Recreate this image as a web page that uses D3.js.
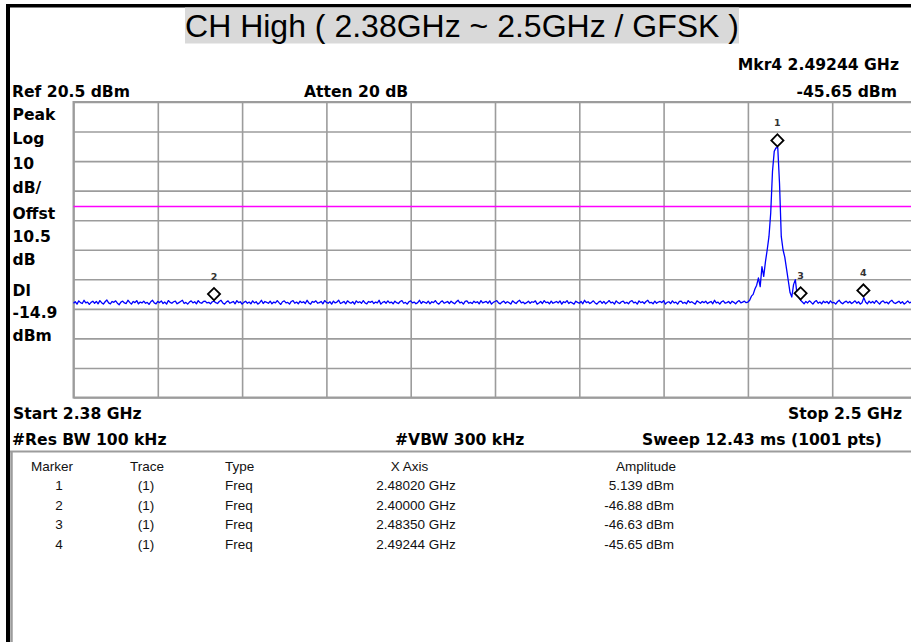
<!DOCTYPE html>
<html>
<head>
<meta charset="utf-8">
<script src="https://cdn.jsdelivr.net/npm/d3@7"></script>
<style>
  html, body { margin: 0; padding: 0; background: #fff; }
  svg { display: block; }
</style>
</head>
<body>
<svg id="chart" width="911" height="642"></svg>
<script>
// ---------------- DATA ----------------
const titleText = "CH High ( 2.38GHz ~ 2.5GHz / GFSK )";
const freqStart = 2.38;   // GHz
const freqStop = 2.5;     // GHz
const refLevel = 20.5;    // dBm
const dbPerDiv = 10;
const displayLine = -14.9; // dBm

// Trace amplitudes (dBm), evenly spaced sweep points from Start to Stop
const traceDbm = [
-47.6,-47.1,-47.9,-46.8,-47.4,-47.7,-46.6,-47.5,-47.2,-48.0,-47.3,-46.9,-47.6,-47.0,-47.8,-46.7,-47.4,-47.9,-47.1,-46.5,
-47.5,-47.8,-47.0,-47.3,-46.8,-47.6,-48.1,-47.2,-46.9,-47.5,-47.7,-46.6,-47.3,-47.9,-47.0,-47.4,-46.7,-47.8,-47.2,-47.5,
-46.9,-47.6,-47.3,-48.0,-47.1,-46.6,-47.5,-47.8,-47.0,-47.4,-46.8,-47.7,-47.2,-47.9,-46.7,-47.3,-47.6,-47.1,-46.9,-47.8,
-47.4,-47.0,-46.6,-47.7,-47.3,-47.9,-47.2,-46.8,-47.5,-47.1,-47.8,-46.7,-47.4,-47.6,-47.0,-46.9,-47.5,-47.3,-47.8,-47.1,
-46.9,-47.4,-47.7,-47.0,-46.6,-47.5,-47.9,-47.2,-46.8,-47.6,-47.3,-47.0,-47.8,-46.7,-47.4,-47.1,-47.9,-47.3,-46.9,-47.6,
-47.2,-47.8,-46.8,-47.5,-47.1,-47.9,-47.4,-46.6,-47.7,-47.0,-47.3,-47.6,-46.9,-47.8,-47.2,-47.5,-46.7,-47.4,-48.0,-47.1,
-46.8,-47.5,-47.3,-47.9,-47.0,-46.7,-47.6,-47.2,-47.8,-46.9,-47.4,-47.1,-47.7,-46.6,-47.5,-47.9,-47.0,-47.3,-46.8,-47.6,
-47.4,-47.0,-47.8,-46.7,-47.3,-47.6,-47.1,-47.9,-46.9,-47.5,-47.2,-46.6,-47.7,-47.4,-47.0,-47.8,-46.8,-47.3,-47.6,-47.1,
-47.9,-46.8,-47.4,-47.1,-47.6,-46.7,-47.5,-47.8,-47.0,-47.3,-46.9,-47.7,-47.2,-47.5,-46.6,-47.9,-47.3,-47.0,-47.6,-46.8,
-47.5,-47.2,-47.8,-46.9,-47.4,-47.7,-47.0,-46.7,-47.6,-47.3,-47.9,-47.1,-46.8,-47.5,-47.2,-47.8,-47.4,-46.6,-47.7,-47.0,
-47.3,-47.6,-46.9,-47.8,-47.1,-47.4,-46.7,-47.5,-47.9,-47.2,-46.8,-47.6,-47.3,-47.0,-47.7,-46.9,-47.4,-47.8,-47.1,-46.6,
-47.5,-47.2,-47.9,-47.0,-46.8,-47.6,-47.3,-47.7,-46.9,-47.4,-47.1,-47.8,-46.7,-47.5,-47.2,-47.0,-47.6,-46.8,-47.9,-47.3,
-47.0,-46.7,-47.5,-47.8,-47.2,-46.9,-47.6,-47.1,-47.4,-47.9,-46.8,-47.3,-47.7,-47.0,-46.6,-47.5,-47.2,-47.8,-47.4,-46.9,
-47.6,-47.1,-47.3,-46.8,-47.9,-47.5,-47.0,-47.7,-46.7,-47.4,-47.2,-47.8,-46.9,-47.6,-47.3,-47.0,-47.5,-46.8,-47.9,-47.1,
-47.4,-46.7,-47.7,-47.2,-47.5,-47.9,-46.9,-47.3,-47.6,-47.0,-47.8,-46.6,-47.4,-47.1,-47.7,-47.3,-46.8,-47.5,-47.9,-47.2,
-46.9,-47.6,-47.0,-47.8,-47.3,-46.7,-47.5,-47.2,-47.9,-46.8,-47.4,-47.7,-47.1,-46.9,-47.6,-47.3,-47.8,-47.0,-46.7,-47.5,
-47.2,-47.9,-46.8,-47.4,-47.1,-47.7,-47.0,-46.6,-47.5,-47.3,-47.8,-46.9,-47.6,-47.2,-47.0,-47.4,-46.7,-47.9,-47.3,-47.1,
-47.7,-46.8,-47.5,-47.2,-47.9,-47.0,-46.9,-47.6,-47.3,-47.8,-46.7,-47.4,-47.1,-47.5,-47.9,-46.8,-47.2,-47.6,-47.0,-47.4,
-46.9,-47.7,-47.3,-47.0,-47.8,-46.6,-47.5,-47.2,-47.9,-47.1,-46.8,-47.6,-47.4,-47.0,-47.7,-46.9,-47.3,-47.8,-47.1,-46.7,
-47.5,-47.2,-46.9,-47.4,-47.2,-46.6,-45.2,-44.6,-42.8,-41.5,-39.0,-42.0,-35.2,-38.5,-33.5,-29.5,-25.0,-17.0,-3.0,3.8,
5.0,5.1,-7.0,-25.0,-29.5,-32.0,-36.0,-40.0,-44.0,-45.5,-41.3,-39.6,-44.7,-45.6,-46.6,-47.2,-47.8,-47.0,-47.5,-46.8,
-47.3,-47.9,-47.1,-46.7,-47.6,-47.2,-47.8,-46.9,-47.4,-47.0,-47.7,-46.8,-47.5,-47.3,-47.9,-47.1,-46.6,-47.4,-47.8,-47.2,
-46.9,-47.5,-47.0,-47.7,-47.3,-46.8,-47.6,-47.1,-47.9,-47.4,-45.7,-47.2,-47.8,-46.9,-47.5,-47.0,-47.6,-46.7,-47.3,-47.9,
-47.1,-46.8,-47.5,-47.2,-47.8,-47.0,-46.6,-47.4,-47.7,-47.3,-46.9,-47.6,-47.1,-47.9,-47.4,-46.8,-47.5,-47.2,-47.7,-47.0,
-47.3
];

// Markers
const markerIds = ["1", "2", "3", "4"];
const markerTrace = ["(1)", "(1)", "(1)", "(1)"];
const markerType = ["Freq", "Freq", "Freq", "Freq"];
const markerFreq = [2.48020, 2.40000, 2.48350, 2.49244];      // GHz
const markerAmp = [5.139, -46.88, -46.63, -45.65];            // dBm
const markerFreqText = ["2.48020 GHz", "2.40000 GHz", "2.48350 GHz", "2.49244 GHz"];
const markerAmpText = ["5.139 dBm", "-46.88 dBm", "-46.63 dBm", "-45.65 dBm"];
const tableHeaders = ["Marker", "Trace", "Type", "X Axis", "Amplitude"];

// Annotation texts
const leftLabels = ["Peak", "Log", "10", "dB/", "Offst", "10.5", "dB", "Dl", "-14.9", "dBm"];
const headerTexts = { mkr: "Mkr4  2.49244 GHz", ref: "Ref 20.5 dBm", atten: "Atten 20 dB", mkrAmp: "-45.65 dBm" };
const footerTexts = { start: "Start 2.38 GHz", stop: "Stop 2.5 GHz", rbw: "#Res BW 100 kHz", vbw: "#VBW 300 kHz", sweep: "Sweep 12.43 ms (1001 pts)" };

// ---------------- DRAW ----------------
const svg = d3.select("#chart");
const W = 911, H = 642;
svg.append("rect").attr("width", W).attr("height", H).attr("fill", "#fff");

const boldFont = "'DejaVu Sans', Verdana, sans-serif";
const regFont = "'Liberation Sans', Arial, sans-serif";

// outer black frame (top + left)
svg.append("rect").attr("x", 6).attr("y", 4).attr("width", W - 6).attr("height", 3.5).attr("fill", "#000");
svg.append("rect").attr("x", 6).attr("y", 4).attr("width", 4).attr("height", H - 4).attr("fill", "#000");

// title
svg.append("rect").attr("x", 185).attr("y", 7.5).attr("width", 554).attr("height", 36).attr("fill", "#d9d9d9");
svg.append("text").attr("x", 462).attr("y", 37).attr("text-anchor", "middle")
  .attr("font-family", regFont).attr("font-size", 32).attr("fill", "#000").text(titleText);

// plot geometry
const plotL = 73.5, plotR = 916.5, plotT = 102, plotB = 397.5;
const x = d3.scaleLinear().domain([freqStart, freqStop]).range([plotL, plotR]);
const y = d3.scaleLinear().domain([refLevel - 10 * dbPerDiv, refLevel]).range([plotB, plotT]);

const gridColor = "#9c9c9c";
const xTicks = d3.range(0, 11).map(i => freqStart + i * (freqStop - freqStart) / 10);
const yTicks = d3.range(0, 11).map(i => refLevel - i * dbPerDiv);

const gx = svg.append("g").attr("transform", `translate(0,${plotB})`)
  .call(d3.axisBottom(x).tickValues(xTicks).tickFormat("").tickSize(-(plotB - plotT)).tickSizeOuter(0));
gx.select(".domain").remove();
gx.selectAll(".tick line").attr("stroke", gridColor).attr("stroke-width", 1.6);

const gy = svg.append("g").attr("transform", `translate(${plotL},0)`)
  .call(d3.axisLeft(y).tickValues(yTicks).tickFormat("").tickSize(-(plotR - plotL)).tickSizeOuter(0));
gy.select(".domain").remove();
gy.selectAll(".tick line").attr("stroke", gridColor).attr("stroke-width", 1.6);

// plot frame
svg.append("rect").attr("x", plotL).attr("y", plotT).attr("width", plotR - plotL).attr("height", plotB - plotT)
  .attr("fill", "none").attr("stroke", gridColor).attr("stroke-width", 2);

// display line
svg.append("line").attr("x1", plotL).attr("x2", plotR).attr("y1", y(displayLine)).attr("y2", y(displayLine))
  .attr("stroke", "#ff00ff").attr("stroke-width", 1.5);

// trace
const step = (freqStop - freqStart) / (traceDbm.length - 1);
const line = d3.line().x((d, i) => x(freqStart + i * step)).y(d => y(d));
svg.append("path").datum(traceDbm).attr("d", line).attr("fill", "none")
  .attr("stroke", "#0000ff").attr("stroke-width", 1.3).attr("stroke-linejoin", "round");

// markers
const diamond = d3.symbol().type(d3.symbolSquare).size(74);
markerIds.forEach((id, i) => {
  const mx = x(markerFreq[i]), my = y(markerAmp[i]) - 7;
  svg.append("path").attr("d", diamond()).attr("transform", `translate(${mx},${my}) rotate(45)`)
    .attr("fill", "#fff").attr("stroke", "#000").attr("stroke-width", 1.8);
  svg.append("text").attr("x", mx).attr("y", my - 14).attr("text-anchor", "middle")
    .attr("font-family", boldFont).attr("font-weight", "bold").attr("font-size", 9.5).attr("fill", "#333").text(id);
});

// header texts
function boldText(t, xx, yy, anchor) {
  svg.append("text").attr("x", xx).attr("y", yy).attr("text-anchor", anchor || "start")
    .attr("font-family", boldFont).attr("font-weight", "bold").attr("font-size", 15.6).attr("fill", "#000").text(t);
}
boldText(headerTexts.mkr, 899, 70, "end");
boldText(headerTexts.ref, 12, 96.5);
boldText(headerTexts.atten, 304, 96.5);
boldText(headerTexts.mkrAmp, 897, 96.5, "end");

const leftY = [120, 144, 169, 193, 219, 242, 265, 296, 318, 341];
leftLabels.forEach((t, i) => boldText(t, 12.5, leftY[i]));

boldText(footerTexts.start, 13, 419);
boldText(footerTexts.stop, 902, 419, "end");
boldText(footerTexts.rbw, 12, 445);
boldText(footerTexts.vbw, 395, 445);
boldText(footerTexts.sweep, 882, 445, "end");

// marker table box
svg.append("line").attr("x1", 10).attr("x2", W).attr("y1", 451.5).attr("y2", 451.5).attr("stroke", gridColor).attr("stroke-width", 2);
svg.append("line").attr("x1", 11.5).attr("x2", 11.5).attr("y1", 451).attr("y2", H).attr("stroke", gridColor).attr("stroke-width", 2.5);

const tFont = 13.5;
function regText(t, xx, yy, anchor) {
  svg.append("text").attr("x", xx).attr("y", yy).attr("text-anchor", anchor || "start")
    .attr("font-family", regFont).attr("font-size", tFont).attr("fill", "#111").text(t);
}
const hdrY = 470.5;
regText(tableHeaders[0], 52, hdrY, "middle");
regText(tableHeaders[1], 147, hdrY, "middle");
regText(tableHeaders[2], 225, hdrY);
regText(tableHeaders[3], 409.5, hdrY, "middle");
regText(tableHeaders[4], 646, hdrY, "middle");
const rowY = [490, 509.5, 529, 548.5];
markerIds.forEach((id, i) => {
  regText(id, 59, rowY[i], "middle");
  regText(markerTrace[i], 146, rowY[i], "middle");
  regText(markerType[i], 225, rowY[i]);
  regText(markerFreqText[i], 416, rowY[i], "middle");
  regText(markerAmpText[i], 674, rowY[i], "end");
});
</script>
</body>
</html>
